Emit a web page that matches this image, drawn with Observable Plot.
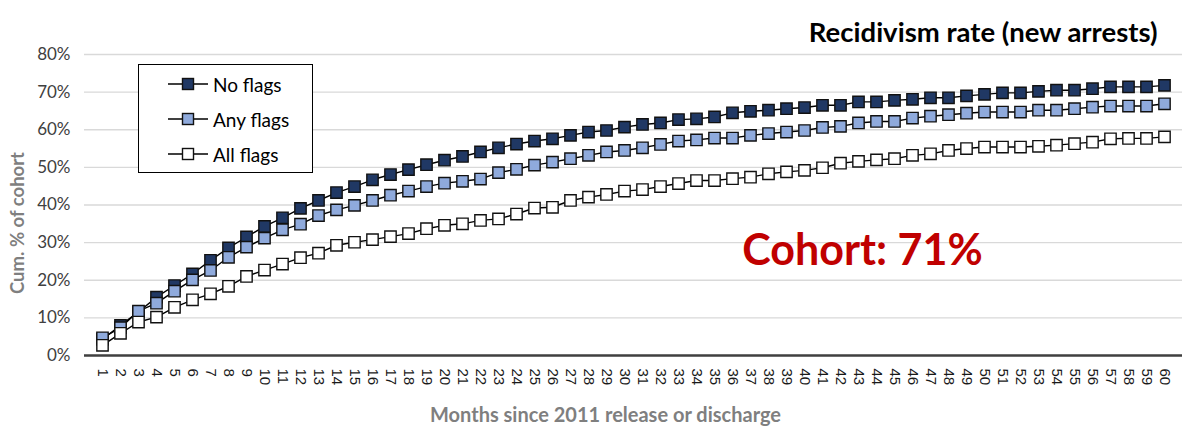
<!DOCTYPE html>
<html>
<head>
<meta charset="utf-8">
<script src="https://cdn.jsdelivr.net/npm/d3@7"></script>
<script src="https://cdn.jsdelivr.net/npm/@observablehq/plot@0.6"></script>
<style>
  html, body { margin: 0; padding: 0; background: #fff; }
  #wrap { position: relative; width: 1185px; height: 429px; }
  #legend { position: absolute; left: 138px; top: 64px; width: 173px; height: 107px;
    border: 1.5px solid #000; background: #fff; font-family: Lato, sans-serif; font-size: 19px; color: #000; }
  .row { position: absolute; left: 29px; height: 24px; display: flex; align-items: center; }
  .row svg { margin-right: 5px; }
</style>
</head>
<body>
<div id="wrap"><div id="legend"></div></div>
<script>
const months = d3.range(1, 61);
const seriesNames = ["No flags", "Any flags", "All flags"];
const seriesFill = ["#203864", "#8FAADC", "#ffffff"];
const noFlags = [4.3,8.0,11.6,15.5,18.6,21.7,25.3,28.6,31.5,34.3,
  36.6,39.1,41.2,43.3,44.9,46.7,48.1,49.4,50.7,51.9,
  52.9,54.1,55.2,56.2,57.0,57.6,58.5,59.4,59.8,60.7,
  61.4,61.8,62.7,62.9,63.4,64.5,64.9,65.2,65.6,65.9,
  66.5,66.5,67.4,67.4,67.8,68.1,68.5,68.5,69.0,69.4,
  69.8,69.8,70.2,70.5,70.5,70.9,71.4,71.4,71.4,71.8];
const anyFlags = [4.7,7.4,11.8,13.9,17.1,20.1,22.6,26.1,28.8,31.2,
  33.4,34.9,37.2,38.7,39.9,41.2,42.6,43.7,44.9,45.8,
  46.3,46.9,48.6,49.5,50.6,51.4,52.3,53.2,54.1,54.5,
  55.2,56.1,57.0,57.3,57.8,57.8,58.5,59.0,59.4,59.8,
  60.6,60.9,61.8,62.2,62.2,63.1,63.6,64.0,64.4,64.7,
  64.7,64.7,65.2,65.2,65.6,66.0,66.3,66.3,66.3,66.9];
const allFlags = [2.7,5.9,8.9,10.2,12.8,14.8,16.4,18.4,21.0,22.7,
  24.3,26.0,27.2,29.3,30.1,30.8,31.6,32.4,33.7,34.6,
  35.0,35.9,36.3,37.6,39.2,39.4,41.2,42.1,42.8,43.7,
  44.1,44.9,45.7,46.5,46.5,47.0,47.4,48.3,48.8,49.2,
  49.9,51.1,51.6,52.0,52.3,53.2,53.6,54.5,55.0,55.4,
  55.4,55.4,55.6,55.9,56.3,56.7,57.6,57.7,57.7,58.1];
const yTicks = [0,10,20,30,40,50,60,70,80];
const titleText = "Recidivism rate (new arrests)";
const annotationText = "Cohort: 71%";
const xLabel = "Months since 2011 release or discharge";
const yLabel = "Cum. % of cohort";

const values = [noFlags, anyFlags, allFlags];
const data = [];
seriesNames.forEach((s, i) => months.forEach((m, j) => data.push({series: s, month: m, value: values[i][j]})));

const marks = [
  Plot.gridY(yTicks, {stroke: "#d9d9d9", strokeOpacity: 1, strokeWidth: 1.3}),
  Plot.axisY(yTicks, {tickSize: 0, tickPadding: 14, tickFormat: d => d + "%", fontSize: 17, fontFamily: "Lato", fill: "#404040", label: null}),
  Plot.axisX({tickSize: 0, tickPadding: 13, tickRotate: 90, fontSize: 15, fontFamily: "Liberation Sans", fill: "#1a1a1a", label: null}),
  Plot.ruleY([0], {stroke: "#404040", strokeWidth: 2.5})
];
seriesNames.forEach((s, i) => {
  const d = data.filter(r => r.series === s);
  marks.push(Plot.line(d, {x: "month", y: "value", stroke: "#000", strokeWidth: 1.4}));
  marks.push(Plot.dot(d, {x: "month", y: "value", symbol: "square", r: 6.4, fill: seriesFill[i], stroke: "#111", strokeWidth: 1.4}));
});
marks.push(
  Plot.text([titleText], {text: d => d, frameAnchor: "top-right", textAnchor: "end", lineAnchor: "middle", dx: -25, dy: -21, fontSize: 27.5, fontWeight: "bold", fontFamily: "Lato", fill: "#000"}),
  Plot.text([annotationText], {text: d => d, frameAnchor: "top-left", textAnchor: "middle", lineAnchor: "middle", dx: 778, dy: 197, fontSize: 43, fontWeight: "bold", fontFamily: "Lato", fill: "#C00000"}),
  Plot.text([yLabel], {text: d => d, frameAnchor: "left", rotate: -90, textAnchor: "middle", lineAnchor: "middle", dx: -66, dy: 18, fontSize: 18.5, fontWeight: "bold", fontFamily: "Lato", fill: "#7f7f7f"}),
  Plot.text([xLabel], {text: d => d, frameAnchor: "bottom", textAnchor: "middle", lineAnchor: "middle", dx: -28, dy: 60, fontSize: 20, fontWeight: "bold", fontFamily: "Lato", fill: "#7f7f7f"})
);

const chart = Plot.plot({
  width: 1185, height: 429,
  marginLeft: 84, marginRight: 3, marginTop: 54, marginBottom: 74,
  style: {fontFamily: "Lato", background: "#fff", overflow: "visible"},
  x: {type: "point", domain: months, padding: 0.5},
  y: {domain: [0, 80]},
  marks
});
document.getElementById("wrap").prepend(chart);

// legend
const legend = document.getElementById("legend");
seriesNames.forEach((s, i) => {
  const row = document.createElement("div");
  row.className = "row";
  row.style.top = (7 + i * 35) + "px";
  row.innerHTML = `<svg width="40" height="16"><line x1="0" x2="40" y1="8" y2="8" stroke="#000" stroke-width="1.3"/><rect x="14.5" y="2.5" width="11" height="11" fill="${seriesFill[i]}" stroke="#111" stroke-width="1.4"/></svg><span>${s}</span>`;
  legend.appendChild(row);
});
</script>
</body>
</html>
